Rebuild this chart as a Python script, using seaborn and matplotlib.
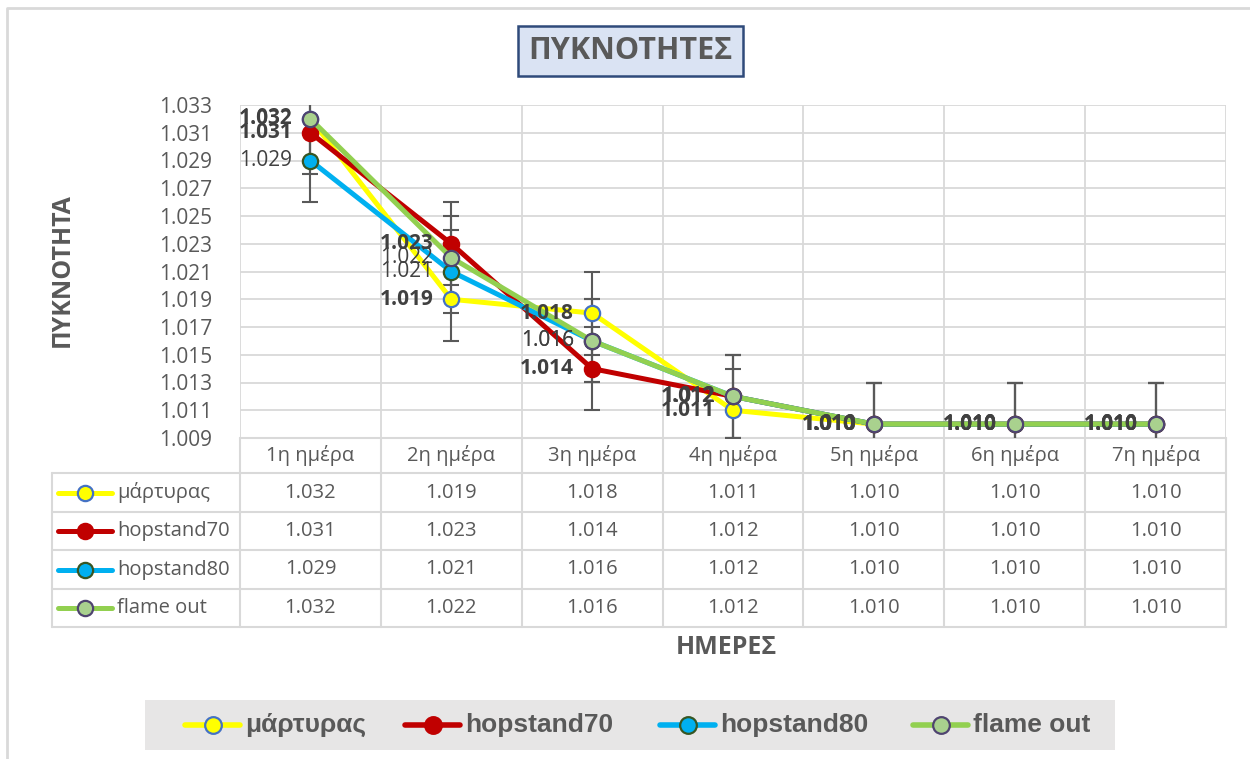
import numpy as np
import pandas as pd
import matplotlib
matplotlib.use("Agg")
import matplotlib.pyplot as plt
import seaborn as sns
from matplotlib.lines import Line2D
from matplotlib.patches import Rectangle

# Δεδομένα (πυκνότητες ανά ημέρα)
days = ["1η ημέρα", "2η ημέρα", "3η ημέρα", "4η ημέρα", "5η ημέρα", "6η ημέρα", "7η ημέρα"]
series_names = ["μάρτυρας", "hopstand70", "hopstand80", "flame out"]
martyras = [1.032, 1.019, 1.018, 1.011, 1.010, 1.010, 1.010]
hopstand70 = [1.031, 1.023, 1.014, 1.012, 1.010, 1.010, 1.010]
hopstand80 = [1.029, 1.021, 1.016, 1.012, 1.010, 1.010, 1.010]
flame_out = [1.032, 1.022, 1.016, 1.012, 1.010, 1.010, 1.010]
error = 0.003
y_ticks = [1.009, 1.011, 1.013, 1.015, 1.017, 1.019, 1.021, 1.023, 1.025, 1.027, 1.029, 1.031, 1.033]

values = [martyras, hopstand70, hopstand80, flame_out]
line_colors = ["#FFFF00", "#C00000", "#00B0F0", "#92D050"]
face_colors = ["#FFFF00", "#C00000", "#00B0F0", "#A9D18E"]
edge_colors = ["#4472C4", "#C00000", "#375623", "#4F4470"]
label_bold = [True, True, False, False]

sns.set_theme(style="white")
plt.rcParams["font.family"] = ["Open Sans", "DejaVu Sans"]

W, H = 1250, 759
fig = plt.figure(figsize=(W / 100, H / 100), dpi=100)

# Overlay σε pixel για πίνακα, τίτλο, υπόμνημα
ov = fig.add_axes([0, 0, 1, 1], zorder=0)
ov.set_xlim(0, W)
ov.set_ylim(H, 0)
ov.axis("off")

# Κύριο γράφημα
left, right, top, bottom = 240, 1226, 105, 438
ax = fig.add_axes([left / W, 1 - bottom / H, (right - left) / W, (bottom - top) / H], zorder=2)
ax.set_facecolor("none")

x = np.arange(len(days))
for name, vals, lc, fc, ec, bold in zip(series_names, values, line_colors, face_colors, edge_colors, label_bold):
    ax.errorbar(x, vals, yerr=error, fmt="none", ecolor="#595959", elinewidth=1.5,
                capsize=6, capthick=1.5, zorder=3)
    df = pd.DataFrame({"day": x, "value": vals})
    sns.lineplot(data=df, x="day", y="value", ax=ax, color=lc, linewidth=3.6,
                 marker="o", markersize=11, markerfacecolor=fc, markeredgecolor=ec,
                 markeredgewidth=1.6, legend=False, zorder=4)
    for xi, v in zip(x, vals):
        ax.annotate(f"{v:.3f}", (xi, v), xytext=(-13, 0), textcoords="offset points",
                    ha="right", va="center", fontsize=15, color="#404040",
                    fontweight="bold" if bold else "normal", zorder=6)

ax.set_xlim(-0.5, len(days) - 0.5)
ax.set_ylim(y_ticks[0], y_ticks[-1])
ax.set_yticks(y_ticks)
ax.set_yticklabels([f"{t:.3f}" for t in y_ticks], fontsize=15, color="#595959")
ax.set_xticks(np.arange(len(days) + 1) - 0.5)
ax.set_xticklabels([])
ax.tick_params(axis="both", length=0, pad=20)
ax.grid(True, color="#D9D9D9", linewidth=1.3)
ax.set_xlabel("")
ax.set_ylabel("")
for s in ax.spines.values():
    s.set_visible(False)

# Πίνακας δεδομένων
gc = "#D9D9D9"
col_w = (right - left) / len(days)
rows = [438, 473, 512, 550, 589, 627]
ov.plot([left, right], [rows[0], rows[0]], color=gc, lw=1.5)
for r in rows[1:]:
    ov.plot([52, right], [r, r], color=gc, lw=1.5)
ov.plot([52, 52], [rows[1], rows[-1]], color=gc, lw=1.5)
for k in range(len(days) + 1):
    xx = left + k * col_w
    ov.plot([xx, xx], [rows[0], rows[-1]], color=gc, lw=1.5)
for i, d in enumerate(days):
    ov.text(left + (i + 0.5) * col_w, (rows[0] + rows[1]) / 2, d, ha="center", va="center",
            fontsize=14.5, color="#595959")
for j, (name, vals) in enumerate(zip(series_names, values)):
    yc = (rows[j + 1] + rows[j + 2]) / 2
    ov.add_line(Line2D([58, 112], [yc, yc], color=line_colors[j], lw=3.6))
    ov.plot([85], [yc], marker="o", markersize=11, markerfacecolor=face_colors[j],
            markeredgecolor=edge_colors[j], markeredgewidth=1.6)
    ov.text(117, yc, name, ha="left", va="center", fontsize=14.5, color="#595959")
    for i, v in enumerate(vals):
        ov.text(left + (i + 0.5) * col_w, yc, f"{v:.3f}", ha="center", va="center",
                fontsize=14.5, color="#595959")

# Τίτλος
ov.add_patch(Rectangle((518, 26), 225, 50, facecolor="#DAE3F3", edgecolor="#2F4A7A", lw=1.8))
ov.text(630.5, 51, "ΠΥΚΝΟΤΗΤΕΣ", ha="center", va="center", fontsize=22,
        fontweight="bold", color="#595959")

# Τίτλοι αξόνων
ov.text(62, 270, "ΠΥΚΝΟΤΗΤΑ", rotation=90, ha="center", va="center", fontsize=18,
        fontweight="bold", color="#595959")
ov.text(726, 648, "ΗΜΕΡΕΣ", ha="center", va="center", fontsize=18,
        fontweight="bold", color="#595959")

# Υπόμνημα κάτω
ov.add_patch(Rectangle((145, 700), 970, 50, facecolor="#E7E6E6", edgecolor="none"))
leg_x = [185, 405, 660, 913]
for j, name in enumerate(series_names):
    x0 = leg_x[j]
    ov.add_line(Line2D([x0, x0 + 55], [725, 725], color=line_colors[j], lw=4))
    ov.plot([x0 + 27.5], [725], marker="o", markersize=12, markerfacecolor=face_colors[j],
            markeredgecolor=edge_colors[j], markeredgewidth=1.6)
    ov.text(x0 + 60, 725, name, ha="left", va="center", fontsize=19, fontweight="bold",
            color="#595959", family=["Liberation Sans", "DejaVu Sans"])

# Περίγραμμα
ov.plot([6.5, 6.5, W], [H, 7.5, 7.5], color="#D9D9D9", lw=2)

fig.savefig("out.png", dpi=100, facecolor="white")
